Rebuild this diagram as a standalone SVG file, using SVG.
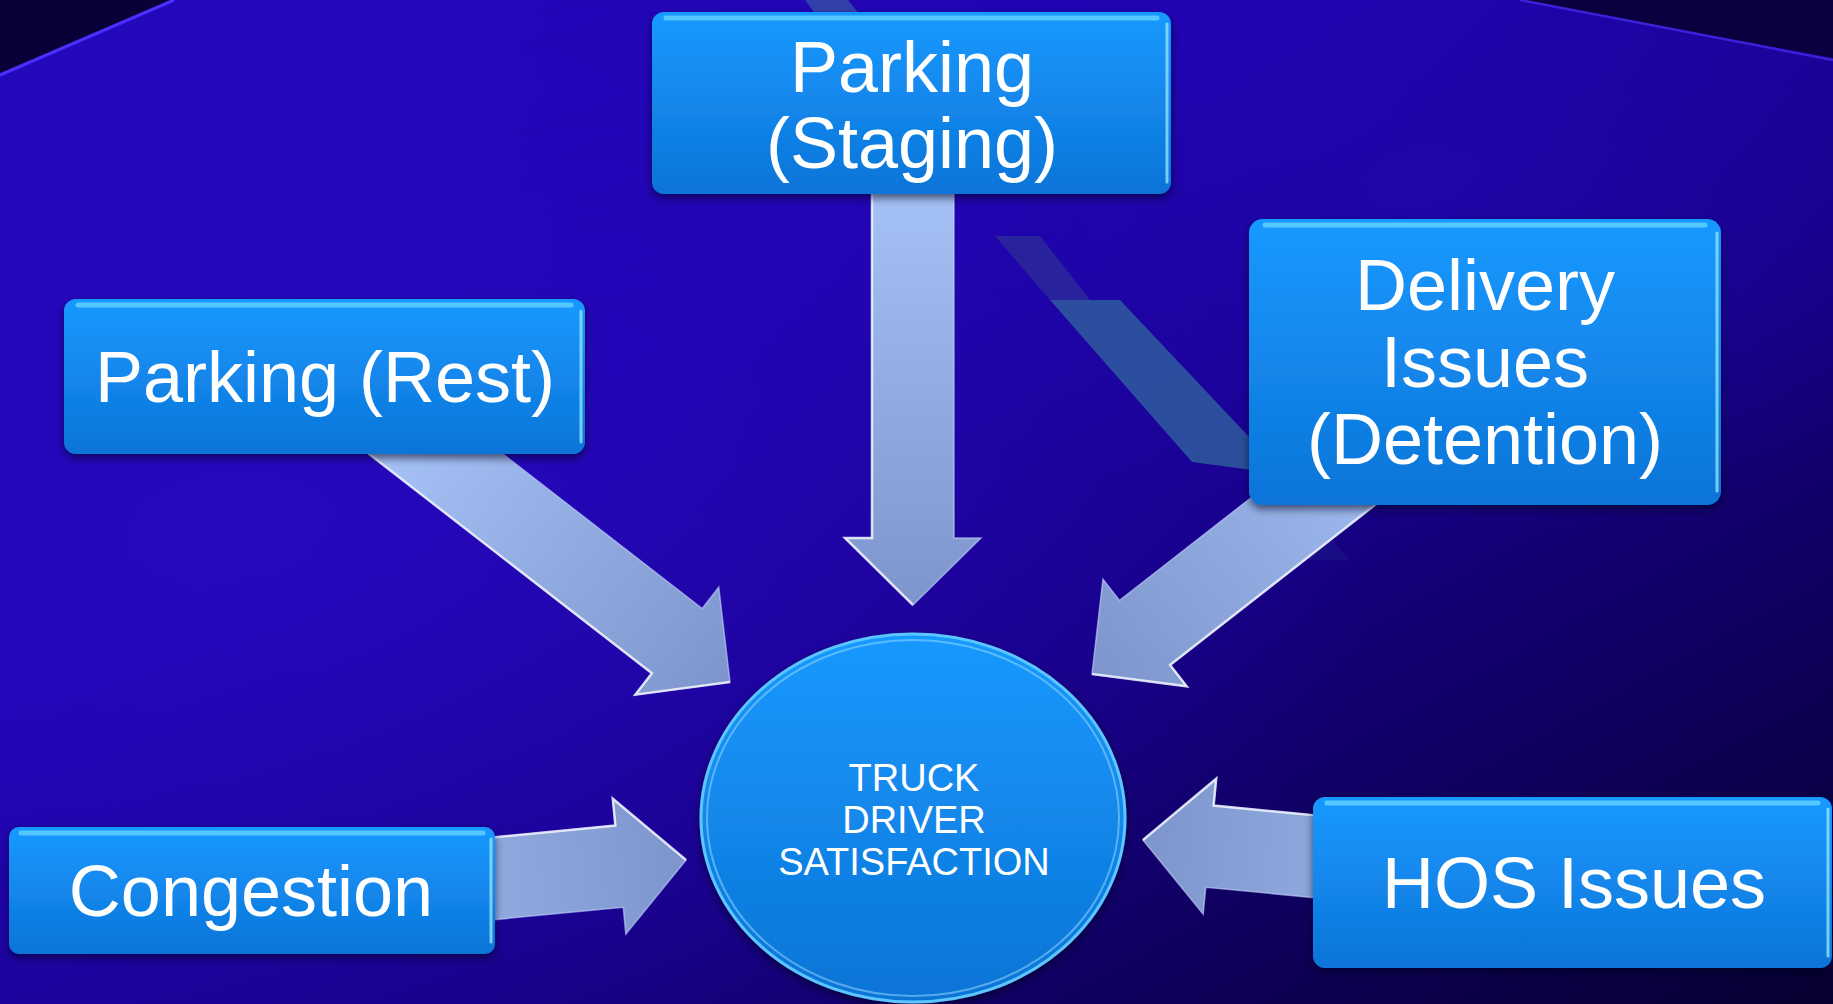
<svg xmlns="http://www.w3.org/2000/svg" width="1833" height="1004" viewBox="0 0 1833 1004">
  <defs>
    <linearGradient id="bg" x1="0" y1="0" x2="1" y2="1">
      <stop offset="0" stop-color="#2408bc"/>
      <stop offset="0.35" stop-color="#2003b0"/>
      <stop offset="0.6" stop-color="#170088"/>
      <stop offset="0.85" stop-color="#0c0052"/>
      <stop offset="1" stop-color="#060030"/>
    </linearGradient>
    <radialGradient id="bgglow" cx="0.15" cy="0.55" r="0.6">
      <stop offset="0" stop-color="#2a0cc8" stop-opacity="0.55"/>
      <stop offset="1" stop-color="#2a0cc8" stop-opacity="0"/>
    </radialGradient>
    <radialGradient id="bgtr" cx="0.78" cy="0.18" r="0.35">
      <stop offset="0" stop-color="#2008b0" stop-opacity="0.6"/>
      <stop offset="1" stop-color="#2008b0" stop-opacity="0"/>
    </radialGradient>
    <linearGradient id="boxfill" x1="0" y1="0" x2="0" y2="1">
      <stop offset="0" stop-color="#1899ff"/>
      <stop offset="1" stop-color="#0d74d8"/>
    </linearGradient>
    <linearGradient id="circfill" x1="0" y1="0" x2="0" y2="1">
      <stop offset="0" stop-color="#1699ff"/>
      <stop offset="1" stop-color="#0e74d6"/>
    </linearGradient>
    <linearGradient id="arrowfill" x1="0" y1="0" x2="1" y2="0">
      <stop offset="0" stop-color="#a9c6fa"/>
      <stop offset="1" stop-color="#7d95cc"/>
    </linearGradient>
    <filter id="shadow" x="-10%" y="-10%" width="120%" height="130%">
      <feDropShadow dx="0" dy="4" stdDeviation="4" flood-color="#000020" flood-opacity="0.6"/>
    </filter>
    <polygon id="arrowshape" points="-460,-41 -67,-41 -67,-68 0,0 -67,68 -67,41 -460,41"/>
    <polyline id="arrowbevel" points="-460,-41 -67,-41 -67,-68 0,0"/>
  </defs>
  <style>
    .box { fill: url(#boxfill); filter: url(#shadow); }
    .boxhl { fill: none; stroke: #5fd0ff; stroke-width: 5; stroke-linecap: round; opacity: 0.85; }
    .boxrhl { fill: none; stroke: #8fe4ff; stroke-width: 3; stroke-linecap: round; opacity: 0.8; }
    .lbl { font-family: "Liberation Sans", Arial, sans-serif; font-size: 72px; fill: #ffffff; text-anchor: middle; }
    .clbl { font-family: "Liberation Sans", Arial, sans-serif; font-size: 38px; fill: #ffffff; text-anchor: middle; }
    .arrow { fill: url(#arrowfill); stroke: #c8d8ff; stroke-width: 1.5; stroke-opacity: 0.6; stroke-linejoin: miter; }
    .bevel { fill: none; stroke: #f2f6ff; stroke-width: 2.5; stroke-opacity: 0.8; stroke-linejoin: miter; }
  </style>

  <!-- background scene -->
  <rect x="0" y="0" width="1833" height="1004" fill="url(#bg)"/>
  <rect x="0" y="0" width="1833" height="1004" fill="url(#bgglow)"/>
  <rect x="0" y="0" width="1833" height="1004" fill="url(#bgtr)"/>
  <polygon points="0,0 172,0 0,74" fill="#0a0038"/>
  <line x1="0" y1="75" x2="174" y2="0" stroke="#4a30ff" stroke-width="3"/>
  <polygon points="1520,0 1833,0 1833,58" fill="#0a0040"/>
  <line x1="1520" y1="0" x2="1833" y2="60" stroke="#3a22d8" stroke-width="2.5"/>
  <!-- road marking -->
  <polygon points="805,0 848,0 880,40 835,40" fill="#3a5aa8" opacity="0.7"/>
  <polygon points="995,236 1040,236 1090,300 1050,300" fill="#2a2a9a" opacity="0.8"/>
  <polygon points="1050,300 1120,300 1252,440 1252,470 1192,462" fill="#2e5c9e" opacity="0.85"/>
  <polygon points="1252,505 1300,505 1350,560 1310,560" fill="#1e2a8a" opacity="0.3"/>

  <!-- connectors -->
  <g id="connectors">
    <g transform="translate(913,605) rotate(90)"><use href="#arrowshape" class="arrow"/><use href="#arrowbevel" class="bevel" transform="scale(1,-1)"/></g>
    <g transform="translate(730,682) rotate(37.8)"><use href="#arrowshape" class="arrow"/><use href="#arrowbevel" class="bevel" transform="scale(1,-1)"/></g>
    <g transform="translate(1092,674) rotate(142)"><use href="#arrowshape" class="arrow"/><use href="#arrowbevel" class="bevel"/></g>
    <g transform="translate(686,860) rotate(-5.5)"><use href="#arrowshape" class="arrow"/><use href="#arrowbevel" class="bevel"/></g>
    <g transform="translate(1143,840) rotate(185.5)"><use href="#arrowshape" class="arrow"/><use href="#arrowbevel" class="bevel" transform="scale(1,-1)"/></g>
  </g>

  <!-- nodes -->
  <g id="node-staging">
    <rect class="box" x="652" y="12" width="519" height="182" rx="12"/>
    <line class="boxhl" x1="666" y1="18" x2="1157" y2="18"/>
    <line class="boxrhl" x1="1167" y1="24" x2="1167" y2="182"/>
    <text class="lbl" x="912" y="92">Parking</text>
    <text class="lbl" x="912" y="168">(Staging)</text>
  </g>
  <g id="node-rest">
    <rect class="box" x="64" y="299" width="521" height="155" rx="12"/>
    <line class="boxhl" x1="78" y1="305" x2="571" y2="305"/>
    <line class="boxrhl" x1="581" y1="311" x2="581" y2="442"/>
    <text class="lbl" x="325" y="402">Parking (Rest)</text>
  </g>
  <g id="node-delivery">
    <rect class="box" x="1249" y="219" width="472" height="286" rx="14"/>
    <line class="boxhl" x1="1265" y1="225" x2="1705" y2="225"/>
    <line class="boxrhl" x1="1717" y1="233" x2="1717" y2="491"/>
    <text class="lbl" x="1485" y="310">Delivery</text>
    <text class="lbl" x="1485" y="387">Issues</text>
    <text class="lbl" x="1485" y="464">(Detention)</text>
  </g>
  <g id="node-congestion">
    <rect class="box" x="9" y="827" width="486" height="127" rx="10"/>
    <line class="boxhl" x1="21" y1="833" x2="483" y2="833"/>
    <line class="boxrhl" x1="491" y1="839" x2="491" y2="942"/>
    <text class="lbl" x="251" y="916">Congestion</text>
  </g>
  <g id="node-hos">
    <rect class="box" x="1313" y="797" width="519" height="171" rx="12"/>
    <line class="boxhl" x1="1327" y1="803" x2="1818" y2="803"/>
    <line class="boxrhl" x1="1828" y1="809" x2="1828" y2="956"/>
    <text class="lbl" x="1574" y="908">HOS Issues</text>
  </g>
  <g id="node-center">
    <ellipse cx="913" cy="818" rx="212" ry="184" fill="url(#circfill)" stroke="#5cc6ff" stroke-width="3" filter="url(#shadow)"/>
    <ellipse cx="913" cy="818" rx="206" ry="178" fill="none" stroke="#9be0ff" stroke-width="2" opacity="0.5"/>
    <text class="clbl" x="914" y="791">TRUCK</text>
    <text class="clbl" x="914" y="833">DRIVER</text>
    <text class="clbl" x="914" y="875">SATISFACTION</text>
  </g>
</svg>
